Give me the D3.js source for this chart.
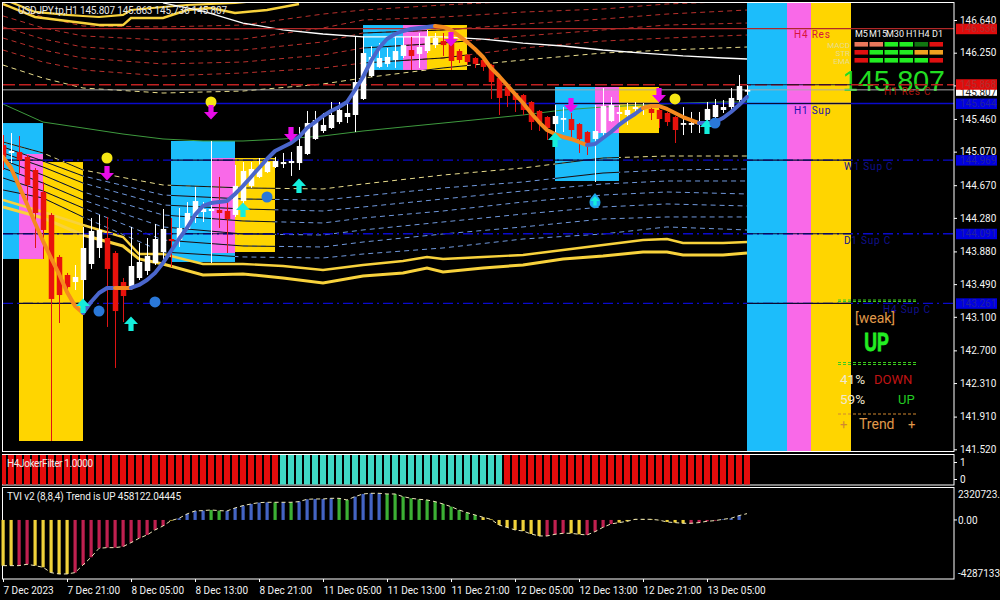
<!DOCTYPE html>
<html><head><meta charset="utf-8">
<script src="https://cdn.jsdelivr.net/npm/d3@7/dist/d3.min.js"></script>
<style>html,body{margin:0;padding:0;background:#000;overflow:hidden}svg{display:block}text{font-family:Roboto,"Noto Sans",sans-serif}</style>
</head><body><svg id="c" width="1000" height="600"></svg>
<script>
// ---------- price data ----------
const opens=[145.149,145.054,145.066,145.007,144.851,144.589,144.315,143.814,143.599,143.515,143.539,143.730,143.921,144.040,143.861,143.515,143.455,143.563,143.647,143.742,143.873,144.028,144.016,144.148,144.291,144.350,144.362,144.374,144.362,144.315,144.481,144.661,144.768,144.827,144.887,144.922,144.934,144.934,145.042,145.221,145.316,145.352,145.423,145.483,145.507,145.698,145.972,146.080,146.116,146.163,146.211,146.282,146.235,146.270,146.341,146.389,146.365,146.270,146.223,146.187,146.163,146.104,145.948,145.841,145.769,145.745,145.662,145.555,145.483,145.399,145.459,145.459,145.399,145.304,145.221,145.292,145.435,145.519,145.507,145.579,145.591,145.579,145.567,145.531,145.483,145.399,145.399,145.411,145.447,145.483,145.567,145.602,145.686,145.807];
const highs=[145.268,145.292,145.256,145.030,144.875,144.708,144.338,143.837,143.623,143.718,144.172,144.279,144.315,144.291,143.885,143.563,144.172,143.980,144.040,144.207,144.386,144.279,144.398,144.469,144.649,144.469,145.197,144.768,144.493,144.911,144.946,144.946,144.994,145.007,145.007,145.054,145.066,145.364,145.555,145.555,145.531,145.662,145.662,145.686,146.438,146.450,146.330,146.365,146.306,146.438,146.438,146.438,146.485,146.521,146.485,146.485,146.485,146.294,146.235,146.199,146.175,146.116,145.960,145.865,145.781,145.757,145.674,145.567,145.495,145.626,145.602,145.531,145.411,145.316,145.626,145.829,145.722,145.626,145.650,145.662,145.650,145.614,145.579,145.543,145.495,145.602,145.543,145.543,145.662,145.698,145.686,145.829,145.984,145.863];
const lows=[144.851,144.934,144.815,144.457,143.921,143.790,141.619,143.026,143.372,143.420,143.301,143.671,143.802,142.979,142.490,143.038,143.420,143.539,143.599,143.718,143.742,143.695,143.933,144.136,144.219,144.231,143.742,144.160,143.861,144.291,144.410,144.637,144.756,144.815,144.875,144.875,144.780,144.851,145.030,145.209,145.292,145.340,145.399,145.411,145.304,145.686,145.960,146.068,146.080,146.068,146.187,146.044,146.068,146.246,146.306,146.211,146.044,146.127,146.104,146.068,146.032,145.698,145.507,145.602,145.543,145.507,145.328,145.316,145.209,145.292,145.304,145.245,145.054,145.030,144.708,145.245,145.423,145.388,145.388,145.531,145.507,145.447,145.352,145.376,145.173,145.268,145.292,145.292,145.423,145.471,145.531,145.531,145.650,145.736];
const closes=[145.007,145.078,144.970,144.672,144.338,144.136,143.313,143.360,143.455,143.575,143.921,144.124,144.136,143.671,143.169,143.348,143.706,143.754,143.826,144.028,144.148,144.004,144.160,144.338,144.481,144.386,144.386,144.338,144.267,144.661,144.839,144.863,144.875,144.946,144.958,144.946,144.958,145.137,145.411,145.447,145.388,145.507,145.567,145.531,145.900,146.246,146.199,146.187,146.199,146.270,146.341,146.211,146.318,146.438,146.425,146.341,146.151,146.163,146.139,146.116,146.080,145.900,145.710,145.734,145.686,145.567,145.423,145.423,145.352,145.495,145.471,145.328,145.221,145.161,145.316,145.614,145.626,145.543,145.567,145.602,145.602,145.531,145.459,145.423,145.328,145.411,145.411,145.423,145.579,145.626,145.602,145.710,145.853,145.807];
const trendLine=[145.007,144.875,144.661,144.445,144.219,144.004,143.802,143.611,143.396,143.229,143.146,143.277,143.384,143.444,143.444,143.444,143.444,143.480,143.539,143.623,143.742,143.885,144.028,144.160,144.315,144.422,144.457,144.469,144.481,144.565,144.661,144.768,144.875,144.982,145.078,145.125,145.173,145.245,145.352,145.423,145.495,145.555,145.602,145.662,145.805,145.960,146.151,146.306,146.413,146.473,146.509,146.533,146.545,146.557,146.569,146.557,146.521,146.450,146.378,146.294,146.199,146.068,145.972,145.865,145.757,145.650,145.531,145.423,145.328,145.280,145.245,145.221,145.185,145.149,145.161,145.233,145.304,145.388,145.459,145.519,145.591,145.614,145.614,145.579,145.531,145.483,145.447,145.411,145.411,145.423,145.471,145.543,145.626,145.722];
const trendRuns=[[0,10,"down"],[10,14,"up"],[14,16,"down"],[16,54,"up"],[54,73,"down"],[73,80,"up"],[80,87,"down"],[87,93,"up"]];

const maIdx=[0,5,10,15,20,25,30,35,40,45,50,55,60,65,70,75,80,85,90,93];
const greenMA=[145.638,145.423,145.352,145.280,145.221,145.197,145.197,145.221,145.257,145.316,145.364,145.411,145.459,145.507,145.567,145.602,145.626,145.650,145.662,145.662];
const whiteIdx=[20,25,30,35,40,45,50,55,60,65,70,75,80,85,90,93];
const whiteMA=[146.843,146.747,146.604,146.521,146.473,146.438,146.438,146.438,146.413,146.365,146.330,146.282,146.246,146.211,146.187,146.175];

const envIdx=[0,5,10,20,30,40,45,55,65,75,83,93];
const palesUp=[146.103,145.948,145.829,145.769,145.793,145.877,145.948,146.068,146.163,146.246,146.282,146.318];
const red1=[146.282,146.139,146.044,145.972,146.008,146.068,146.127,146.187,146.306,146.389,146.425,146.461];
const red2=[146.425,146.282,146.187,146.116,146.139,146.223,146.306,146.365,146.450,146.521,146.580,146.604];
const red3=[146.557,146.413,146.318,146.258,146.282,146.378,146.485,146.521,146.592,146.652,146.711,146.759];
const red4=[146.688,146.545,146.450,146.401,146.413,146.545,146.640,146.676,146.735,146.771,146.831,146.867];
const red5=[146.819,146.676,146.568,146.557,146.580,146.711,146.759,146.819,146.867,146.902,146.938,146.962];
const paleDown=[145.185,145.054,144.851,144.672,144.637,144.625,144.684,144.791,144.875,144.994,145.018,145.018];
const blue1=[145.126,144.958,144.780,144.553,144.505,144.493,144.541,144.637,144.708,144.815,144.851,144.863];
const blue2=[145.054,144.887,144.696,144.434,144.386,144.362,144.410,144.505,144.601,144.684,144.720,144.720];
const blue3=[144.970,144.791,144.589,144.315,144.243,144.219,144.279,144.362,144.469,144.553,144.589,144.565];
const blue4=[144.875,144.696,144.493,144.172,144.088,144.076,144.136,144.231,144.326,144.410,144.446,144.422];
const blue5=[144.756,144.601,144.398,144.016,143.945,143.933,143.992,144.088,144.172,144.267,144.291,144.291];
const blue6=[144.613,144.517,144.291,143.873,143.814,143.802,143.849,143.921,144.028,144.088,144.172,144.136];

const goldIdx=[0,5,10,15,17,20,25,30,35,40,45,50,53,55,60,65,70,75,80,83,85,90,93];
const goldA=[144.493,144.350,144.195,144.052,143.849,143.849,143.730,143.730,143.706,143.659,143.718,143.766,143.814,143.790,143.814,143.837,143.897,143.957,144.016,144.028,143.980,143.980,143.992];
const goldB=[144.410,144.279,144.076,143.945,143.790,143.730,143.599,143.611,143.563,143.504,143.587,143.623,143.683,143.635,143.683,143.718,143.790,143.826,143.873,143.873,143.837,143.837,143.861];
const goldTopIdx=[0,4,8,10,12,15,16,20,23,26,29,33,37];
const goldC=[146.831,146.676,146.628,146.604,146.580,146.580,146.664,146.664,146.759,146.783,146.724,146.759,146.831];
const goldD=[146.891,146.736,146.700,146.688,146.676,146.700,146.759,146.795,146.819,146.831,146.843,146.879,146.914];

// zones: start bar, end bar, top price, bottom price
const zoneYellow=[[2,10,144.946,141.619],[29,34,144.994,143.873],[53,58,146.580,146.044],[77,82,145.841,145.292],[101,106,146.879,141.488]];
const zoneBlue=[[0,5,145.411,143.790],[21,29,145.197,143.754],[45,50,146.580,146.044],[69,77,145.841,144.720],[93,98,146.879,141.488]];
const zonePink=[[2,5,145.042,143.790],[26,29,144.994,143.861],[50,53,146.580,146.044],[74,77,145.841,145.292],[98,101,146.879,141.488]];

const levelValues=[146.536,145.868,145.644,144.969,144.091,143.261];
const levelLabels=["146.536","145.868","145.644","144.969","144.091","143.261"];
const bidValue=145.807;
const priceTicks=[146.64,146.25,145.86,145.46,145.07,144.67,144.28,143.88,143.49,143.10,142.70,142.31,141.91,141.52];

const yellowDotBars=[13,26,84], yellowDotPrices=[144.994,145.662,145.698];
const magentaBars=[13,26,36,56,71,82], magentaPrices=[144.815,145.543,145.280,146.413,145.626,145.745];
const cyanBars=[30,37,10,16,69,88], cyanPrices=[144.374,144.661,143.229,143.015,145.209,145.364];
const blueDotBars=[33,12,19,89], blueDotPrices=[144.529,143.169,143.277,145.411];
const dropBar=74, dropPrice=144.481;

const filterRuns=[[0,34,"down"],[35,62,"up"],[63,93,"down"]];
const tvi=[-3316000,-3316000,-3316000,-3219000,-3316000,-3437000,-3824000,-3921000,-3921000,-3824000,-3268000,-2711000,-2057000,-2009000,-2009000,-1936000,-1646000,-1331000,-1089000,-726000,-436000,-48000,121000,436000,654000,678000,726000,678000,654000,871000,1041000,1162000,1259000,1283000,1283000,1283000,1283000,1331000,1501000,1525000,1525000,1573000,1573000,1452000,1694000,1888000,1936000,1936000,1888000,1888000,1694000,1573000,1501000,1452000,1331000,1162000,968000,726000,533000,363000,194000,48000,-363000,-533000,-726000,-799000,-1017000,-1162000,-1162000,-1041000,-968000,-968000,-1041000,-1089000,-847000,-533000,-290000,-194000,-97000,48000,48000,48000,-10000,-145000,-194000,-242000,-242000,-194000,-97000,-48000,48000,121000,315000,458122];
const tviKinds="yyrryyyyyrrrrrrrrrrrrybbbbggbbbbbbgbgbbbbbggbbbbggggggggggggyyyyyyyyrrryyrrrryyyyyyyyyrrrrbbb".split("");
const timeLabels=["7 Dec 2023","7 Dec 21:00","8 Dec 05:00","8 Dec 13:00","8 Dec 21:00","11 Dec 05:00","11 Dec 13:00","11 Dec 21:00","12 Dec 05:00","12 Dec 13:00","12 Dec 21:00","13 Dec 05:00"];
const timeTickBars=[0,8,16,24,32,40,48,56,64,72,80,88];
const tfNames=["M5","M15","M30","H1","H4","D1"];
const signalRows=["MACD","STR","EMA"];
const signalGrid=[["s","s","g","g","d","r"],["r","g","g","g","o","o"],["r","g","g","g","g","r"]];

// ---------- scales ----------
const svg=d3.select("#c");
svg.append("rect").attr("width",1000).attr("height",600).attr("fill","#000");
const x=d3.scaleLinear().domain([0,93]).range([3,747]);
const y=d3.scaleLinear().domain([146.64,141.52]).range([20,449.3]);
const yF=d3.scaleLinear().domain([0,1]).range([479,462]);
const yT=d3.scaleLinear().domain([2320723.4,-4287133.4]).range([488,579]);
const defs=svg.append("defs");
defs.append("clipPath").attr("id","main").append("rect").attr("x",3).attr("y",3).attr("width",951).attr("height",449);
const zc=defs.append("clipPath").attr("id","zones");
const allZones=zoneYellow.concat(zoneBlue,zonePink);
zc.selectAll("rect").data(allZones).join("rect").attr("x",d=>x(d[0])).attr("width",d=>x(d[1])-x(d[0])).attr("y",d=>y(d[2])).attr("height",d=>y(d[3])-y(d[2]));

const main=svg.append("g").attr("clip-path","url(#main)");
function drawZones(data,col){main.append("g").selectAll("rect").data(data).join("rect").attr("x",d=>x(d[0])).attr("width",d=>x(d[1])-x(d[0])).attr("y",d=>y(d[2])).attr("height",d=>y(d[3])-y(d[2])).attr("fill",col);}
drawZones(zoneYellow,"#FFD500");drawZones(zoneBlue,"#1CBDFB");drawZones(zonePink,"#F969E8");

// big price sits under the level lines
main.append("text").attr("x",842).attr("y",91).attr("font-size",29).attr("fill","#22DD22").attr("textLength",103).style("font-family","Liberation Sans").text("145.807");

const line=(idx)=>d3.line().x((d,i)=>x(idx[i])).y(d=>y(d));
const envelopes=[[palesUp,"#E8DC8C"],[red1,"#B8302C"],[red2,"#B8302C"],[red3,"#B8302C"],[red4,"#B8302C"],[red5,"#B8302C"],[paleDown,"#E8DC8C"],[blue1,"#7098DC"],[blue2,"#7098DC"],[blue3,"#7098DC"],[blue4,"#7098DC"],[blue5,"#7098DC"],[blue6,"#7098DC"]];
const envG=main.append("g").attr("fill","none");
envelopes.forEach(([v,c])=>envG.append("path").attr("d",line(envIdx)(v)).attr("stroke",c).attr("stroke-width",1).attr("stroke-dasharray","5,4"));
const envK=main.append("g").attr("fill","none").attr("clip-path","url(#zones)");
envelopes.forEach(([v])=>envK.append("path").attr("d",line(envIdx)(v)).attr("stroke","#111").attr("stroke-width",1));
[[goldA,goldIdx,2.4],[goldB,goldIdx,3],[goldC,goldTopIdx,2.4],[goldD,goldTopIdx,2.2]].forEach(([v,idx,w])=>main.append("path").attr("d",line(idx)(v)).attr("fill","none").attr("stroke","#F8D23C").attr("stroke-width",w));
main.append("path").attr("d",line(maIdx)(greenMA)).attr("fill","none").attr("stroke","#3E9A3E").attr("stroke-width",1);
main.append("path").attr("d",line(whiteIdx)(whiteMA)).attr("fill","none").attr("stroke","#FFF").attr("stroke-width",1.3);

// levels
const levelStyle=[["#B02828",null,1.3],["#C02020","12,4",1.3],["#0A0ACC",null,1.3],["#0A0ACC","10,4,2,4",1.3],["#0A0ACC","10,4,2,4",1.3],["#0A0ACC","10,4,2,4",1.3]];
main.append("g").selectAll("line").data(levelValues).join("line").attr("x1",3).attr("x2",954).attr("y1",d=>y(d)).attr("y2",d=>y(d))
 .attr("stroke",(d,i)=>levelStyle[i][0]).attr("stroke-dasharray",(d,i)=>levelStyle[i][1]).attr("stroke-width",(d,i)=>levelStyle[i][2]);
main.append("line").attr("x1",3).attr("x2",954).attr("y1",y(bidValue)).attr("y2",y(bidValue)).attr("stroke","#A8A8A8").attr("stroke-width",1);
main.append("g").attr("clip-path","url(#zones)").selectAll("line").data(levelValues.slice(1)).join("line").attr("x1",3).attr("x2",954).attr("y1",d=>y(d)).attr("y2",d=>y(d)).attr("stroke","#0A0A30").attr("stroke-width",1.2);

// candles
const bars=d3.range(opens.length);
const cG=main.append("g");
cG.selectAll("line").data(bars).join("line").attr("x1",i=>x(i)+.5).attr("x2",i=>x(i)+.5).attr("y1",i=>y(highs[i])).attr("y2",i=>y(lows[i]))
 .attr("stroke",i=>closes[i]>=opens[i]?"#FFF":"#DE1414").attr("stroke-width",1);
cG.selectAll("rect").data(bars).join("rect").attr("x",i=>x(i)-2.25).attr("width",5.5)
 .attr("y",i=>y(Math.max(opens[i],closes[i]))).attr("height",i=>Math.max(1.8,Math.abs(y(opens[i])-y(closes[i]))))
 .attr("fill",i=>closes[i]>=opens[i]?"#FFF":"#E8120C");

// trend line
trendRuns.forEach(([a,b,k])=>{const idx=d3.range(a,b+1);
 main.append("path").attr("d",line(idx)(idx.map(i=>trendLine[i]))).attr("fill","none").attr("stroke-linecap","round").attr("stroke-linejoin","round")
 .attr("stroke",k==="up"?"#4A66CC":"#F58A1E").attr("stroke-width",4);});

// markers
const mk=main.append("g");
const arrowUp="M0,-7.5L7,0L2.6,0L2.6,7L-2.6,7L-2.6,0L-7,0Z", arrowDown="M0,7.5L7,0L2.6,0L2.6,-7L-2.6,-7L-2.6,0L-7,0Z";
mk.selectAll(".yd").data(yellowDotBars).join("circle").attr("cx",d=>x(d)).attr("cy",(d,i)=>y(yellowDotPrices[i])).attr("r",5.5).attr("fill","#F5E614");
mk.selectAll(".m").data(magentaBars).join("path").attr("d",arrowDown).attr("transform",(d,i)=>`translate(${x(d)},${y(magentaPrices[i])})`).attr("fill","#E80CE8");
mk.selectAll(".c").data(cyanBars).join("path").attr("d",arrowUp).attr("transform",(d,i)=>`translate(${x(d)},${y(cyanPrices[i])})`).attr("fill","#14EEDC");
mk.selectAll(".bd").data(blueDotBars).join("circle").attr("cx",d=>x(d)).attr("cy",(d,i)=>y(blueDotPrices[i])).attr("r",5.5).attr("fill","#2A78D8");
mk.append("path").attr("d","M0,-8C2,-5 5.5,-3 5.5,1.5A5.5,5.5 0 0 1 -5.5,1.5C-5.5,-3 -2,-5 0,-8Z").attr("transform",`translate(${x(dropBar)},${y(dropPrice)})`).attr("fill","#1EA8F0");
mk.append("path").attr("d",arrowUp).attr("transform",`translate(${x(dropBar)},${y(dropPrice)}) scale(.65)`).attr("fill","#14EEDC");

// level captions inside chart
const caps=[["H4 Res",794,38,"#D8143C"],["H1 Res C",884,95,"#A8160E"],["H1 Sup",794,114,"#1A10B0"],["W1 Sup C",844,170,"#10108C"],["D1 Sup C",844,244,"#10108C"],["H4 Sup C",883,313,"#10108C"]];
main.append("g").selectAll("text").data(caps).join("text").attr("x",d=>d[1]).attr("y",d=>d[2]).attr("fill",d=>d[3]).attr("font-size",10).attr("letter-spacing",".8").text(d=>d[0]);

// title
svg.append("text").attr("x",18).attr("y",14).attr("font-size",10).attr("fill","#E8E8E8").attr("textLength",209).text("USDJPY.tp,H1  145.807 145.863 145.736 145.807");

// dashboard
const gridCol={s:"#E9775B",g:"#22EE22",d:"#117711",r:"#E01010",o:"#F0A020"};
const colX=d3.scaleBand().domain(d3.range(6)).range([854.5,944.5]);
const rowY=d3.scaleBand().domain(d3.range(3)).range([41,65]);
const hdrX=[855,869,886,906,918,932];
svg.append("g").selectAll("text").data(tfNames).join("text").attr("x",(d,i)=>hdrX[i]).attr("y",36.5).attr("font-size",9).attr("fill","#F4F4F4").text(d=>d);
signalGrid.forEach((r,ri)=>svg.append("g").selectAll("rect").data(r).join("rect").attr("x",(d,i)=>colX(i)).attr("width",13.5).attr("y",rowY(ri)+1).attr("height",4.6).attr("fill",d=>gridCol[d]));
svg.append("g").selectAll("text").data(signalRows).join("text").attr("x",850).attr("y",(d,i)=>rowY(i)+7).attr("text-anchor","end").attr("font-size",8).attr("fill","#E8DC90").text(d=>d);

function dash(yy,col){svg.append("line").attr("x1",838).attr("x2",917).attr("y1",yy).attr("y2",yy).attr("stroke",col).attr("stroke-dasharray","3,2");}
[300,301.5,362.5,364.5].forEach(v=>dash(v,"#3CCC1C"));dash(414,"#D08830");
const T=(s,xx,yy,fs,c,a)=>svg.append("text").attr("x",xx).attr("y",yy).attr("font-size",fs).attr("fill",c).attr("text-anchor",a||"start").text(s);
T("[weak]",855,323,14,"#E09A4A");
svg.append("text").attr("transform","translate(876.5,351) scale(.68,1)").attr("text-anchor","middle").attr("font-size",26).attr("font-weight","bold").attr("fill","#22EE22").attr("stroke","#22EE22").attr("stroke-width",.9).style("font-family","Liberation Sans").text("UP");
T("41%",840,384,13.5,"#F0E8D0");T("DOWN",874,384,13,"#C01414");
T("59%",840,404,13.5,"#F0E8D0");T("UP",898,404,13,"#22CC22");
T("+",840,429,13,"#D08830");T("Trend",859,429,14,"#E09A4A");T("+",908,429,13,"#E09A4A");

// panels and frames
const fr=svg.append("g").attr("fill","none").attr("stroke","#FFF").attr("stroke-width",1);
[[2.5,2.5,951.5,449],[2.5,454.5,951.5,30.5],[2.5,487.5,951.5,91.5]].forEach(r=>fr.append("rect").attr("x",r[0]).attr("y",r[1]).attr("width",r[2]).attr("height",r[3]));

// price axis
const axY=svg.append("g").attr("transform","translate(954,0)").call(d3.axisRight(y).tickValues(priceTicks).tickSize(3).tickPadding(3).tickFormat(d3.format(".3f")));
axY.select(".domain").remove();axY.selectAll("line").attr("stroke","#FFF");axY.selectAll("text").attr("fill","#F4F4F4").attr("font-size",10).attr("dy","0.32em");
// level boxes
const boxCol=["#E00C0C","#E00C0C","#0000E0","#0000E0","#0000E0","#0000E0"], txtCol=["#B03030","#B03030","#2020A0","#2020A0","#2020A0","#2020A0"];
const lb=svg.append("g");
lb.append("rect").attr("x",956).attr("y",y(bidValue)-1).attr("width",41).attr("height",7).attr("fill","#FFF");
lb.append("text").attr("x",960).attr("y",y(bidValue)+6).attr("font-size",10).attr("fill","#222").text(bidValue.toFixed(3));
levelValues.forEach((v,i)=>{const c=y(v)+(i==1?-.5:0);
 lb.append("rect").attr("x",956).attr("y",c-5).attr("width",41).attr("height",10.5).attr("fill",boxCol[i]);
 lb.append("text").attr("x",960).attr("y",c+3.5).attr("font-size",10).attr("fill",txtCol[i]).text(levelLabels[i]);});

// filter panel
const fG=svg.append("g");
filterRuns.forEach(([a,b,k])=>fG.selectAll(null).data(d3.range(a,b+1)).join("rect").attr("x",i=>x(i)-3).attr("width",6).attr("y",455).attr("height",29.5).attr("fill",k==="up"?"#3FD8C4":"#E40C0C"));
fG.append("rect").attr("x",0).attr("y",455).attr("width",2).attr("height",30).attr("fill","#000");
const axF=svg.append("g").attr("transform","translate(954,0)").call(d3.axisRight(yF).tickValues([1,0]).tickSize(3).tickPadding(3).tickFormat(d3.format("d")));
axF.select(".domain").remove();axF.selectAll("line").attr("stroke","#FFF");axF.selectAll("text").attr("fill","#F4F4F4").attr("font-size",10);
svg.append("text").attr("x",7).attr("y",467).attr("font-size",10).attr("fill","#F0E8E8").attr("textLength",86).text("H4JokerFilter 1.0000");

// TVI panel
const tviCol={y:"#F0D23A",r:"#C02050",b:"#4464C4",g:"#3CB034"};
svg.append("g").selectAll("rect").data(tvi).join("rect").attr("x",(d,i)=>x(i)-1.5).attr("width",3.2)
 .attr("y",d=>Math.min(yT(d),yT(0))).attr("height",d=>Math.abs(yT(d)-yT(0))).attr("fill",(d,i)=>tviCol[tviKinds[i]]);
svg.append("path").attr("d",d3.line().x((d,i)=>x(i)).y(d=>yT(d))(tvi)).attr("fill","none").attr("stroke","#EDE6B8").attr("stroke-width",1).attr("stroke-dasharray","4,3");
svg.append("text").attr("x",7).attr("y",500).attr("font-size",10).attr("fill","#EFEFEF").attr("textLength",174).text("TVI v2 (8,8,4) Trend is UP 458122.04445");
const tviTicks=[[2320723.4,"2320723.4",6],[0,"0.00",.5],[-4287133.4,"-4287133.4",-6]];
svg.append("g").selectAll("text").data(tviTicks).join("text").attr("x",958).attr("y",d=>yT(d[0])+d[2]+3.5).attr("font-size",10).attr("fill","#F4F4F4").text(d=>d[1]);
svg.append("line").attr("x1",954).attr("x2",957).attr("y1",yT(0)).attr("y2",yT(0)).attr("stroke","#FFF");

// time axis
const axX=svg.append("g").attr("transform","translate(0,579)").call(d3.axisBottom(x).tickValues(timeTickBars).tickSize(3).tickPadding(3).tickFormat((d,i)=>timeLabels[i]));
axX.select(".domain").remove();axX.selectAll("line").attr("stroke","#FFF");axX.selectAll("text").attr("fill","#F4F4F4").attr("font-size",10).attr("text-anchor","start").attr("y",8);
</script></body></html>
